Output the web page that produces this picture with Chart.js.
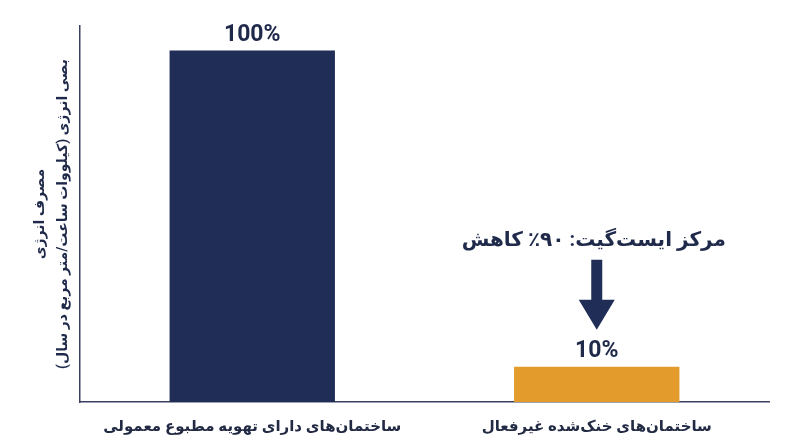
<!DOCTYPE html>
<html lang="fa">
<head>
<meta charset="utf-8">
<script src="https://cdn.jsdelivr.net/npm/chart.js@4.4.1/dist/chart.umd.min.js"></script>
<style>
    html, body { margin: 0; padding: 0; background: #ffffff; }
    #wrap { width: 800px; height: 447px; position: relative; }
</style>
</head>
<body>
<div id="wrap"><canvas id="energyChart"></canvas></div>
<script>
const categories = ['ساختمان‌های دارای تهویه مطبوع معمولی', 'ساختمان‌های خنک‌شده غیرفعال'];
const energyShare = [100, 10];
const valueLabels = ['100%', '10%'];
const barColors = ['#1f2d57', '#e39b2b'];
const yTitleLines = ['مصرف انرژی', 'بصی انرژی (کیلووات ساعت/متر مربع در سال)'];
const calloutText = 'مرکز ایست‌گیت: ۹۰٪ کاهش';

const FONT = "Roboto, 'DejaVu Sans', sans-serif";
const INK = '#1f2a4a';

// labels above bars, y title, callout arrow
const decorPlugin = {
    id: 'decor',
    afterDatasetsDraw(chart) {
        const { ctx, chartArea, scales } = chart;
        const bars = chart.getDatasetMeta(0).data;

        ctx.save();
        ctx.fillStyle = INK;
        ctx.textAlign = 'center';
        ctx.textBaseline = 'alphabetic';
        ctx.font = 'bold 23px ' + FONT;
        bars.forEach(function (bar, i) {
            ctx.fillText(valueLabels[i], bar.x, bar.y - 10);
        });

        // y axis title, two rotated lines
        const midY = (chartArea.top + chartArea.bottom) / 2;
        ctx.font = 'bold 14px ' + FONT;
        ctx.direction = 'rtl';
        ctx.textBaseline = 'middle';
        const xs = [40, 63];
        yTitleLines.forEach(function (line, i) {
            ctx.save();
            ctx.translate(xs[i], midY);
            ctx.rotate(-Math.PI / 2);
            ctx.fillText(line, 0, 0);
            ctx.restore();
        });

        // callout over the second bar
        const cx = scales.x.getPixelForValue(1);
        const tipY = bars[1].y - 37;
        ctx.font = 'bold 20px ' + FONT;
        ctx.fillText(calloutText, cx - 3, tipY - 89);

        ctx.fillStyle = '#1f2d57';
        ctx.beginPath();
        ctx.moveTo(cx - 5.5, tipY - 70);
        ctx.lineTo(cx + 5.5, tipY - 70);
        ctx.lineTo(cx + 5.5, tipY - 30);
        ctx.lineTo(cx + 18, tipY - 30);
        ctx.lineTo(cx, tipY);
        ctx.lineTo(cx - 18, tipY - 30);
        ctx.lineTo(cx - 5.5, tipY - 30);
        ctx.closePath();
        ctx.fill();
        ctx.restore();
    }
};

new Chart(document.getElementById('energyChart'), {
    type: 'bar',
    data: {
        labels: categories,
        datasets: [{
            data: energyShare,
            backgroundColor: barColors,
            borderWidth: 0,
            barPercentage: 0.48,
            categoryPercentage: 1.0
        }]
    },
    options: {
        responsive: true,
        maintainAspectRatio: false,
        animation: false,
        layout: { padding: { top: 26, right: 31, left: 0, bottom: 0 } },
        plugins: {
            legend: { display: false },
            tooltip: { enabled: false }
        },
        scales: {
            y: {
                min: 0,
                max: 107,
                ticks: { display: false },
                grid: { display: false },
                border: { display: true, color: '#3a4060', width: 1.5 },
                afterFit: function (scale) { scale.width = 80; }
            },
            x: {
                ticks: {
                    color: '#222a44',
                    padding: 8,
                    font: { family: FONT, size: 15, weight: 'bold' }
                },
                grid: { display: false },
                border: { display: true, color: '#3a4060', width: 1.5 },
                afterFit: function (scale) { scale.height = 45; }
            }
        }
    },
    plugins: [decorPlugin]
});
</script>
</body>
</html>
